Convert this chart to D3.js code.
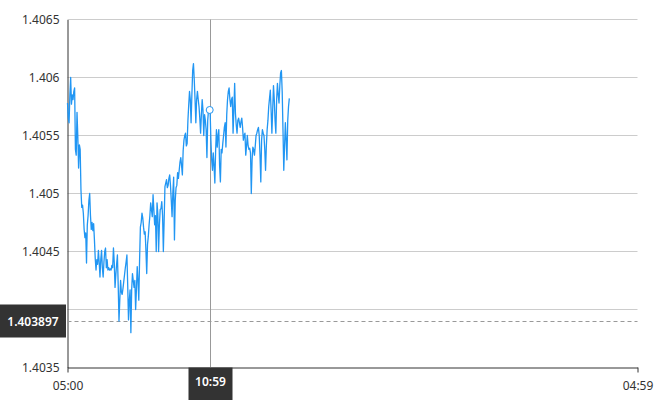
<!DOCTYPE html>
<html>
<head>
<meta charset="utf-8">
<script src="https://cdn.jsdelivr.net/npm/d3@7"></script>
<style>
  html, body { margin: 0; padding: 0; background: #fff; }
  svg { display: block; font-family: "Noto Sans", "Open Sans", Arial, sans-serif; }
</style>
</head>
<body>
<svg id="chart" width="670" height="400"></svg>
<script>
// ---- data ----
const sessionStart = "05:00";
const sessionEnd = "04:59";           // next day
const stepMinutes = 2;
const prices = [
  1.40578,1.40565,1.40561,1.40585,1.40600,1.40577,1.40585,1.40581,1.40588,1.40591,
  1.40538,1.40533,1.40570,1.40550,1.40522,1.40542,1.40538,1.40503,1.40488,1.40490,
  1.40483,1.40469,1.40462,1.40466,1.40440,1.40473,1.40481,1.40494,1.40500,1.40481,
  1.40469,1.40475,1.40468,1.40474,1.40460,1.40444,1.40434,1.40443,1.40439,1.40451,
  1.40441,1.40428,1.40443,1.40451,1.40436,1.40428,1.40441,1.40450,1.40453,1.40436,
  1.40443,1.40434,1.40436,1.40434,1.40435,1.40434,1.40438,1.40436,1.40453,1.40441,
  1.40419,1.40430,1.40439,1.40447,1.40421,1.40390,1.40408,1.40425,1.40415,1.40413,
  1.40418,1.40424,1.40430,1.40436,1.40441,1.40447,1.40421,1.40391,1.40408,1.40417,
  1.40380,1.40417,1.40431,1.40425,1.40419,1.40425,1.40400,1.40417,1.40437,1.40425,
  1.40408,1.40443,1.40471,1.40475,1.40483,1.40479,1.40471,1.40465,1.40467,1.40451,
  1.40431,1.40456,1.40463,1.40473,1.40481,1.40492,1.40486,1.40480,1.40499,1.40486,
  1.40473,1.40481,1.40450,1.40492,1.40483,1.40450,1.40473,1.40486,1.40487,1.40493,
  1.40481,1.40450,1.40477,1.40506,1.40509,1.40512,1.40505,1.40507,1.40513,1.40516,
  1.40507,1.40494,1.40480,1.40501,1.40514,1.40460,1.40494,1.40505,1.40507,1.40518,
  1.40513,1.40520,1.40527,1.40531,1.40524,1.40516,1.40537,1.40546,1.40550,1.40552,
  1.40541,1.40543,1.40563,1.40576,1.40588,1.40581,1.40561,1.40585,1.40606,1.40612,
  1.40598,1.40581,1.40561,1.40581,1.40588,1.40581,1.40575,1.40565,1.40552,1.40568,
  1.40581,1.40572,1.40550,1.40568,1.40563,1.40555,1.40531,1.40563,1.40572,1.40572,
  1.40572,1.40546,1.40529,1.40520,1.40535,1.40524,1.40509,1.40538,1.40555,1.40540,
  1.40550,1.40555,1.40524,1.40510,1.40538,1.40535,1.40543,1.40550,1.40557,1.40561,
  1.40540,1.40568,1.40581,1.40588,1.40591,1.40581,1.40575,1.40581,1.40583,1.40552,
  1.40572,1.40595,1.40569,1.40559,1.40552,1.40563,1.40565,1.40561,1.40557,1.40562,
  1.40565,1.40557,1.40546,1.40550,1.40552,1.40533,1.40541,1.40550,1.40541,1.40538,
  1.40539,1.40535,1.40500,1.40529,1.40540,1.40538,1.40533,1.40541,1.40550,1.40552,
  1.40555,1.40557,1.40550,1.40533,1.40510,1.40546,1.40555,1.40552,1.40550,1.40538,
  1.40520,1.40541,1.40555,1.40563,1.40575,1.40582,1.40589,1.40572,1.40552,1.40572,
  1.40593,1.40581,1.40563,1.40552,1.40581,1.40595,1.40585,1.40578,1.40593,1.40604,
  1.40606,1.40588,1.40555,1.40520,1.40541,1.40561,1.40546,1.40529,1.40563,1.40575,
  1.40582
];
const yTicks = [1.4035, 1.404, 1.4045, 1.405, 1.4055, 1.406, 1.4065];
const yTickLabels = ["1.4035", "1.404", "1.4045", "1.405", "1.4055", "1.406", "1.4065"];
const xTickLabels = ["05:00", "04:59"];
const crosshairTime = "10:59";
const crosshairPrice = 1.403897;
const crosshairPriceLabel = "1.403897";

(function () {
// ---- helpers ----
function atTime(hm, nextDay) {
  const [h, m] = hm.split(":").map(Number);
  return new Date(2024, 0, nextDay ? 2 : 1, h, m);
}
const t0 = atTime(sessionStart, false);
const t1 = atTime(sessionEnd, true);
const data = prices.map((p, i) => ({ t: new Date(t0.getTime() + i * stepMinutes * 60000), v: p }));

// ---- layout ----
const svg = d3.select("#chart");
const pLeft = 67.5, pRight = 637.5, pTop = 19.5, pBottom = 367.5;

const x = d3.scaleTime().domain([t0, t1]).range([pLeft, pRight]);
const y = d3.scaleLinear().domain([yTicks[0], yTicks[yTicks.length - 1]]).range([pBottom, pTop]);

// grid lines
svg.append("g")
  .selectAll("line")
  .data(yTicks.slice(1))
  .join("line")
  .attr("x1", pLeft).attr("x2", pRight)
  .attr("y1", d => y(d)).attr("y2", d => y(d))
  .attr("stroke", "#cccccc").attr("stroke-width", 1);

// y axis
const yAxis = d3.axisLeft(y)
  .tickValues(yTicks)
  .tickFormat((d, i) => yTickLabels[i])
  .tickSize(0)
  .tickPadding(8);
const gy = svg.append("g").attr("transform", `translate(${pLeft},0)`).call(yAxis);
gy.select(".domain").attr("stroke", "#333");
gy.selectAll("text").attr("fill", "#333").style("font-size", "12px").style("font-family", "'Noto Sans', Arial, sans-serif");

// x axis
const xAxis = d3.axisBottom(x)
  .tickValues([t0, t1])
  .tickFormat((d, i) => xTickLabels[i])
  .tickSizeInner(5)
  .tickSizeOuter(0)
  .tickPadding(9);
const gx = svg.append("g").attr("transform", `translate(0,${pBottom})`).call(xAxis);
gx.select(".domain").attr("stroke", "#333");
gx.selectAll(".tick line").attr("stroke", "#333");
gx.selectAll("text").attr("fill", "#333").style("font-size", "12px").style("font-family", "'Noto Sans', Arial, sans-serif");

// crosshair lines
const tc = atTime(crosshairTime, false);
const xc = Math.round(x(tc)) + 0.5;
svg.append("line")
  .attr("x1", xc).attr("x2", xc).attr("y1", pTop).attr("y2", pBottom)
  .attr("stroke", "#999").attr("stroke-width", 1);
const yc = Math.round(y(crosshairPrice)) + 0.5;
svg.append("line")
  .attr("x1", pLeft).attr("x2", pRight).attr("y1", yc).attr("y2", yc)
  .attr("stroke", "#999").attr("stroke-width", 1).attr("stroke-dasharray", "4,3");

// price line
const line = d3.line().x(d => x(d.t)).y(d => y(d.v));
svg.append("path")
  .datum(data)
  .attr("d", line)
  .attr("fill", "none")
  .attr("stroke", "#2196f3")
  .attr("stroke-width", 1.3)
  .attr("stroke-linejoin", "round");

// hover marker at crosshair time (interpolated)
const bis = d3.bisector(d => d.t).left;
const j = Math.max(1, bis(data, tc));
const a = data[j - 1], b = data[j];
const f = (tc - a.t) / (b.t - a.t);
const vc = a.v + (b.v - a.v) * f;
svg.append("circle")
  .attr("cx", x(tc)).attr("cy", y(vc)).attr("r", 3.5)
  .attr("fill", "#fff").attr("stroke", "#2196f3").attr("stroke-width", 1);

// price label box
const gp = svg.append("g");
gp.append("rect").attr("x", 0).attr("y", yc - 17).attr("width", 66).attr("height", 33).attr("fill", "#333");
gp.append("text").attr("x", 33).attr("y", yc).attr("dy", "0.35em")
  .attr("text-anchor", "middle").attr("fill", "#fff").style("font-size", "12px").style("font-weight", "600")
  .text(crosshairPriceLabel);

// time label box
const gt = svg.append("g");
gt.append("rect").attr("x", xc - 22).attr("y", pBottom).attr("width", 44).attr("height", 34).attr("fill", "#333");
gt.append("text").attr("x", xc).attr("y", pBottom + 14).attr("dy", "0.35em")
  .attr("text-anchor", "middle").attr("fill", "#fff").style("font-size", "12px").style("font-weight", "600")
  .text(crosshairTime);
})();
</script>
</body>
</html>
